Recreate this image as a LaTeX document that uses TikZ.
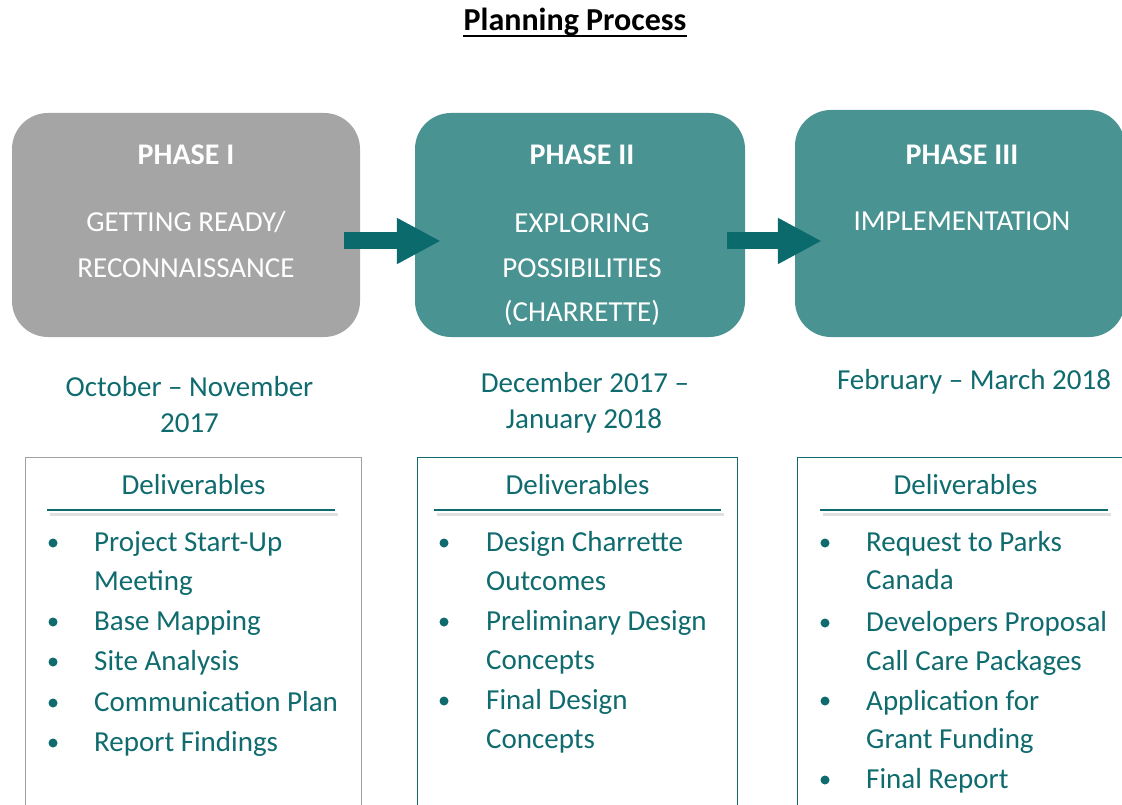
\documentclass[tikz,border=0pt]{standalone}
\usepackage{fontspec}
\setmainfont{Carlito}
\usetikzlibrary{arrows.meta,positioning}
\definecolor{phgrey}{HTML}{A5A5A5}
\definecolor{phteal}{HTML}{4A9393}
\definecolor{arrteal}{HTML}{0B6A6C}
\definecolor{txteal}{HTML}{0F6B6E}
\definecolor{lngrey}{HTML}{A0A0A0}

\begin{document}
\begin{tikzpicture}[x=1pt, y=-1pt,
  phasebox/.style={rounded corners=36pt, minimum height=224pt, inner sep=0pt},
  phasehead/.style={text=white, anchor=base, inner sep=0pt, font=\bfseries\fontsize{30}{36}\selectfont},
  phasesub/.style={text=white, anchor=base, inner sep=0pt, font=\fontsize{29}{44}\selectfont},
  dates/.style={text=txteal, anchor=base, inner sep=0pt, font=\fontsize{29}{36}\selectfont},
  delivhead/.style={text=txteal, anchor=base, inner sep=0pt, font=\fontsize{29}{36}\selectfont},
  deliv/.style={text=txteal, anchor=base west, inner sep=0pt, font=\fontsize{29}{39}\selectfont},
  bulletdot/.style={circle, fill=txteal, inner sep=0pt, minimum size=9pt},
  phasearrow/.style={arrteal, line width=17pt, -{Triangle[length=44pt,width=43pt]}}]
\clip (0,0) rectangle (1122,805);

% title
\node[anchor=base, inner sep=0pt, font=\bfseries\fontsize{32}{38}\selectfont] (title) at (575,31) {Planning Process};
\draw[line width=2.5pt] (title.south west |- 0,36) coordinate (ul1) -- (title.south east |- 0,36) coordinate (ul2);

% phase boxes
\node[phasebox, fill=phgrey, minimum width=348pt] (p1) at (186,225) {};
\node[phasebox, fill=phteal, minimum width=330pt] (p2) at (580,225) {};
\node[phasebox, fill=phteal, minimum width=330pt, minimum height=227pt] (p3) at (960,223.5) {};

\draw[phasearrow, shorten <=-16pt, shorten >=-26pt] ([yshift=-16pt]p1.east) -- ([yshift=-16pt]p2.west);
\draw[phasearrow, shorten <=-18pt, shorten >=-27pt] ([yshift=-16pt]p2.east) -- ([yshift=-17.5pt]p3.west);

\node[phasehead] (h1) at (186,165) {PHASE I};
\node[phasehead] (h2) at (582,165) {PHASE II};
\node[phasehead] (h3) at (962,165) {PHASE III};
\node[phasesub] (s1a) at (186,232) {GETTING READY/};
\node[phasesub] (s1b) at (186,277) {RECONNAISSANCE};
\node[phasesub] (s2a) at (582,233) {EXPLORING};
\node[phasesub] (s2b) at (582,277) {POSSIBILITIES};
\node[phasesub] (s2c) at (582,321) {(CHARRETTE)};
\node[phasesub] (s3a) at (962,231) {IMPLEMENTATION};

% dates
\node[dates] (d1a) at (189.5,396) {October -- November};
\node[dates] (d1b) at (189.5,432) {2017};
\node[dates] (d2a) at (585,392) {December 2017 --};
\node[dates] (d2b) at (584,428) {January 2018};
\node[dates] (d3a) at (974,389) {February -- March 2018};

% deliverables frames
\draw[lngrey] (25,820) |- (361,457) -- (361,820);
\draw[txteal] (417,820) |- (737,457) -- (737,820);
\draw[txteal] (797,820) |- (1130,457);

\foreach \n/\x/\a/\b in {1/193.5/47/335, 2/577.5/434/721, 3/965.5/820/1108} {
  \node[delivhead] (dh\n) at (\x,494) {Deliverables};
  \draw[black!20, line width=3pt, opacity=0.6] (\a+3,514) -- (\b+3,514);
  \draw[txteal, line width=1.6pt] (\a,510) -- (\b,510);
}

% deliverable items
\foreach \y/\t [count=\i] in {551/Project Start-Up, 590/Meeting, 630/Base Mapping, 670/Site Analysis, 711/Communication Plan, 751/Report Findings}
  \node[deliv] (a\i) at (94,\y) {\t};
\foreach \y/\t [count=\i] in {551/Design Charrette, 590/Outcomes, 630/Preliminary Design, 669/Concepts, 709/Final Design, 748/Concepts}
  \node[deliv] (b\i) at (486,\y) {\t};
\foreach \y/\t [count=\i] in {551/Request to Parks, 589/Canada, 631/Developers Proposal, 670/Call Care Packages, 710/Application for, 748/Grant Funding, 788/Final Report}
  \node[deliv] (c\i) at (866,\y) {\t};

\foreach \y [count=\i] in {543,622,662,703,743} \node[bulletdot] (ba\i) at (53,\y) {};
\foreach \y [count=\i] in {543,622,701} \node[bulletdot] (bb\i) at (444,\y) {};
\foreach \y [count=\i] in {543,623,701,780} \node[bulletdot] (bc\i) at (825,\y) {};
\end{tikzpicture}
\end{document}
